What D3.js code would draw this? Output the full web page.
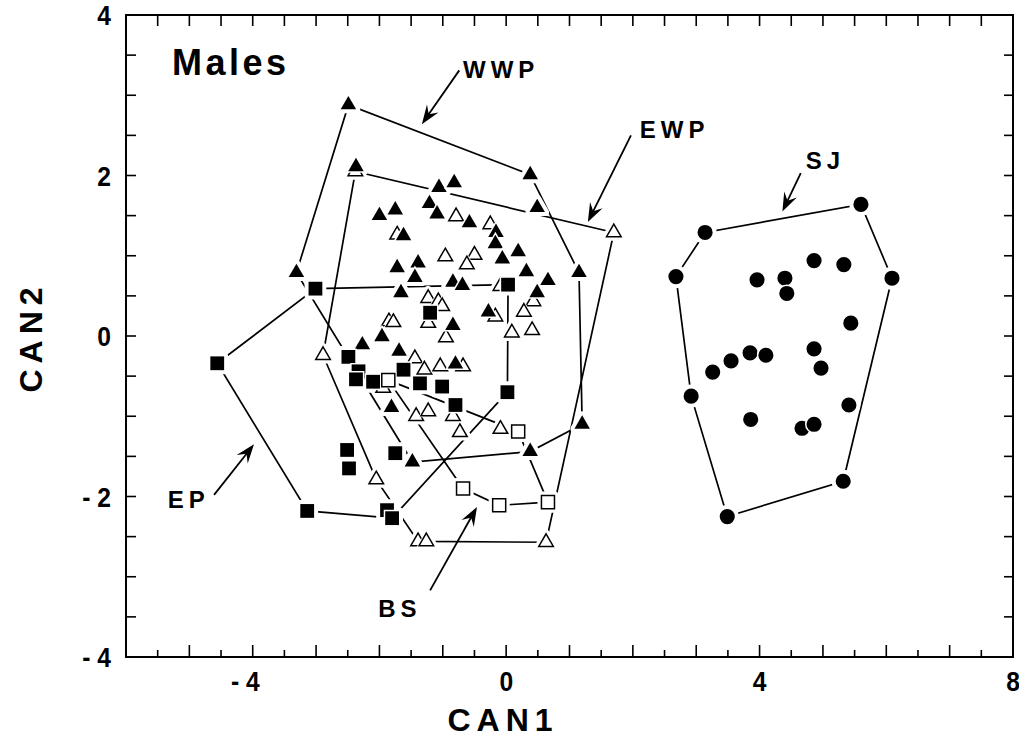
<!DOCTYPE html>
<html><head><meta charset="utf-8">
<script src="https://cdn.jsdelivr.net/npm/d3@7"></script>
<style>
body{margin:0;background:#fff;}
svg{display:block;}
text{font-family:"Liberation Sans",Arial,Helvetica,sans-serif;font-weight:bold;fill:#000;}
</style></head><body>
<svg id="chart" width="1019" height="743"></svg>
<script>
// ---- data (CAN1, CAN2 scores) ----
const wwpX = [-2.49,-2.37,-1.06,-0.82,0.38,-1.21,-1.09,-1.75,-2.00,-0.58,0.49,-1.62,-0.16,-0.17,-0.06,0.19,-1.72,-1.39,-1.44,0.32,0.66,1.15,0.49,-1.66,-0.84,-0.69,-3.31,-0.28,-0.84,-1.96,-2.27,-1.69,-0.80,-1.81,-1.48,0.38,1.20];
const wwpY = [2.88,2.11,1.85,1.91,2.01,1.65,1.52,1.57,1.50,1.41,1.60,1.25,1.29,1.15,0.96,1.05,0.85,0.91,0.73,0.80,0.69,0.79,0.54,0.54,0.67,0.63,0.79,0.30,0.13,-0.01,-0.11,-0.19,-0.35,-0.89,-1.57,-1.44,-1.10];
const ewpX = [-2.38,1.70,-0.79,-0.25,-1.72,-0.96,-0.50,-0.62,-0.09,0.43,-1.23,-1.07,-1.01,-1.23,-0.17,0.28,0.41,0.09,-1.85,-1.78,-0.95,-2.89,-1.44,-1.29,-1.04,-0.68,-1.94,-1.42,-1.23,-0.84,-0.73,-0.09,-2.05,-1.39,-1.26,0.63];
const ewpY = [2.05,1.29,1.49,1.39,1.26,0.99,1.01,0.89,0.62,0.43,0.47,0.43,0.37,0.16,0.24,0.30,0.07,0.04,0.18,0.17,-0.02,-0.24,-0.28,-0.42,-0.38,-0.38,-0.65,-1.00,-0.94,-1.00,-1.20,-1.16,-1.79,-2.56,-2.56,-2.57];
const epX = [-4.56,-3.01,0.03,-1.20,-2.49,-2.33,-2.37,-2.10,-1.62,-1.36,-1.01,-0.80,0.02,-1.75,-2.51,-2.48,-3.14,-1.88,-1.80];
const epY = [-0.34,0.59,0.64,0.29,-0.26,-0.44,-0.54,-0.57,-0.42,-0.59,-0.63,-0.86,-0.70,-1.46,-1.42,-1.65,-2.18,-2.17,-2.27];
const bsX = [-1.86,-0.68,-0.11,0.66,0.19];
const bsY = [-0.55,-1.90,-2.11,-2.07,-1.19];
const sjX = [5.60,3.14,2.68,6.09,3.96,4.40,4.43,4.86,5.33,5.44,3.85,4.10,3.55,3.26,4.86,4.97,2.92,3.86,5.41,4.67,4.86,5.32,3.49];
const sjY = [1.64,1.29,0.74,0.72,0.70,0.72,0.53,0.94,0.89,0.16,-0.21,-0.24,-0.31,-0.45,-0.16,-0.40,-0.75,-1.04,-0.86,-1.15,-1.10,-1.81,-2.25];

const groupNames = ["EWP","WWP","EP","BS","SJ"];
const xTickValues = [-4,0,4,8];
const yTickValues = [-4,-2,0,2,4];
const xTitle = "CAN1", yTitle = "CAN2", panelTitle = "Males";

// annotation labels (text, label anchor, arrow tail, arrow tip) in data units
const annLabels = ["WWP","EWP","SJ","EP","BS"];
const annTextX = [-0.68, 2.11, 4.73, -5.34, -2.02];
const annTextY = [3.21, 2.47, 2.08, -2.14, -3.50];
const annTailX = [-0.74, 1.97, 4.65, -4.61, -1.20];
const annTailY = [3.31, 2.50, 2.03, -1.98, -3.17];
const annTipX  = [-1.33, 1.29, 4.36, -3.98, -0.46];
const annTipY  = [2.64, 1.42, 1.55, -1.35, -2.13];

// ---- layout ----
const L = 126, R = 1013, T = 15, B = 657;
const svg = d3.select("#chart");
const x = d3.scaleLinear().domain([-6, 8]).range([L, R]);
const y = d3.scaleLinear().domain([-4, 4]).range([B, T]);

const groups = [
  {name:groupNames[0], xs:ewpX, ys:ewpY, sym:d3.symbolTriangle, filled:false, size:92},
  {name:groupNames[1], xs:wwpX, ys:wwpY, sym:d3.symbolTriangle, filled:true,  size:104},
  {name:groupNames[2], xs:epX,  ys:epY,  sym:d3.symbolSquare,   filled:true,  size:190},
  {name:groupNames[3], xs:bsX,  ys:bsY,  sym:d3.symbolSquare,   filled:false, size:170},
  {name:groupNames[4], xs:sjX,  ys:sjY,  sym:d3.symbolCircle,   filled:true,  size:180}
];

// hulls
const hullG = svg.append("g");
groups.forEach(g => {
  const pts = g.xs.map((v,i) => [x(v), y(g.ys[i])]);
  const hull = d3.polygonHull(pts);
  hullG.append("path")
    .attr("d", "M" + hull.map(p => p.join(",")).join("L") + "Z")
    .attr("fill","none").attr("stroke","#000").attr("stroke-width",1.7);
});

// white halos so hull lines stop short of markers
const haloG = svg.append("g");
groups.forEach(g => {
  const sp = d3.symbol().type(g.sym).size(g.size);
  g.xs.forEach((v,i) => {
    haloG.append("path").attr("d", sp())
      .attr("transform", `translate(${x(v)},${y(g.ys[i])})`)
      .attr("fill","#fff").attr("stroke","#fff").attr("stroke-width",8).attr("stroke-linejoin","round");
  });
});

// markers
const markG = svg.append("g");
groups.forEach(g => {
  const sp = d3.symbol().type(g.sym).size(g.size);
  g.xs.forEach((v,i) => {
    const tr = `translate(${x(v)},${y(g.ys[i])})`;
    markG.append("path").attr("d", sp()).attr("transform", tr)
      .attr("fill","#fff").attr("stroke","#fff").attr("stroke-width",3);
    markG.append("path").attr("d", sp()).attr("transform", tr)
      .attr("fill", g.filled ? "#000" : "#fff")
      .attr("stroke", g.filled ? "none" : "#000")
      .attr("stroke-width", 1.5);
  });
});

// frame and ticks
const axG = svg.append("g").attr("stroke","#000");
axG.append("rect").attr("x",L).attr("y",T).attr("width",R-L).attr("height",B-T)
  .attr("fill","none").attr("stroke-width",2);
const xMinor = d3.range(-6, 8.001, 0.5);
const yMinor = d3.range(-4, 4.001, 0.5);
xMinor.forEach(v => {
  const isInt = Math.abs(v - Math.round(v)) < 1e-6;
  axG.append("line").attr("x1",x(v)).attr("x2",x(v)).attr("y1",B).attr("y2",B-(isInt?12:7)).attr("stroke-width",1.6);
  axG.append("line").attr("x1",x(v)).attr("x2",x(v)).attr("y1",T).attr("y2",T+11).attr("stroke-width",1.6);
});
yMinor.forEach(v => {
  axG.append("line").attr("x1",L).attr("x2",L+10).attr("y1",y(v)).attr("y2",y(v)).attr("stroke-width",1.6);
  axG.append("line").attr("x1",R).attr("x2",R-9).attr("y1",y(v)).attr("y2",y(v)).attr("stroke-width",1.6);
});

const fmt = v => v < 0 ? "- " + Math.abs(v) : String(v);
xTickValues.forEach(v => {
  svg.append("text").attr("transform", `translate(${x(v)+7},691) scale(0.88,1)`)
    .attr("text-anchor","end").attr("font-size",28).text(fmt(v));
});
yTickValues.forEach(v => {
  svg.append("text").attr("transform", `translate(111,${y(v)}) scale(0.88,1)`).attr("dy","0.36em")
    .attr("text-anchor","end").attr("font-size",28).text(fmt(v));
});

svg.append("text").attr("x", 503).attr("y", 731).attr("text-anchor","middle")
  .attr("font-size",32).attr("letter-spacing",6).text(xTitle);
svg.append("text").attr("transform","translate(42,337) rotate(-90)").attr("text-anchor","middle")
  .attr("font-size",32).attr("letter-spacing",6).text(yTitle);
svg.append("text").attr("x",172).attr("y",75).attr("font-size",36).attr("letter-spacing",3.5).text(panelTitle);

// annotations
annLabels.forEach((lab,i) => {
  svg.append("text").attr("x", x(annTextX[i])).attr("y", y(annTextY[i]))
    .attr("font-size",24).attr("letter-spacing",5).text(lab);
  const sx = x(annTailX[i]), sy = y(annTailY[i]), tx = x(annTipX[i]), ty = y(annTipY[i]);
  const a = Math.atan2(ty-sy, tx-sx);
  svg.append("line").attr("x1",sx).attr("y1",sy)
    .attr("x2",tx - 11*Math.cos(a)).attr("y2",ty - 11*Math.sin(a))
    .attr("stroke","#000").attr("stroke-width",1.8);
  svg.append("path").attr("d","M0,0L-19,-7L-12,0L-19,7Z")
    .attr("transform",`translate(${tx},${ty}) rotate(${a*180/Math.PI})`).attr("fill","#000");
});
</script>
</body></html>
